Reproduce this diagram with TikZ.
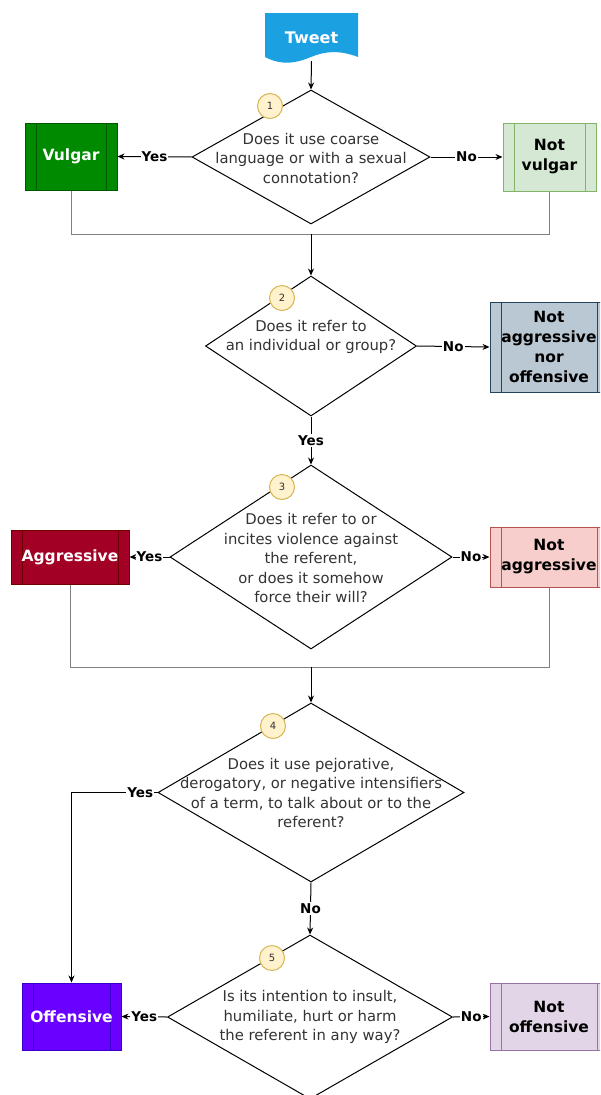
\documentclass[tikz,border=0pt]{standalone}
\usepackage{fontspec}
\setmainfont{DejaVu Sans}
\usetikzlibrary{shapes.geometric,arrows.meta}
\definecolor{tweetblue}{HTML}{1BA1E2}
\definecolor{vulgf}{HTML}{008A00}
\definecolor{vulgd}{HTML}{005700}
\definecolor{nvulgf}{HTML}{D5E8D4}
\definecolor{nvulgd}{HTML}{82B366}
\definecolor{nanof}{HTML}{BAC8D3}
\definecolor{nanod}{HTML}{23445D}
\definecolor{aggrf}{HTML}{A20025}
\definecolor{aggrd}{HTML}{6F0000}
\definecolor{naggrf}{HTML}{F8CECC}
\definecolor{naggrd}{HTML}{B85450}
\definecolor{offf}{HTML}{6A00FF}
\definecolor{offd}{HTML}{3700CC}
\definecolor{noffd}{HTML}{9673A6}
\definecolor{nofff}{HTML}{E1D5E7}
\definecolor{numf}{HTML}{FFF2CC}
\definecolor{numd}{HTML}{D6B656}
\definecolor{qgray}{HTML}{333333}
\definecolor{joingray}{HTML}{808080}
\begin{document}
\begin{tikzpicture}[x=1pt,y=-1pt,
  proc/.style n args={2}{draw=#2, fill=#1, line width=1pt, rectangle, inner sep=0pt, align=center,
    font=\bfseries\fontsize{15.5}{20}\selectfont,
    path picture={\draw[#2, line width=1pt]
      ([xshift=11pt]path picture bounding box.south west) -- ([xshift=11pt]path picture bounding box.north west)
      ([xshift=-11pt]path picture bounding box.south east) -- ([xshift=-11pt]path picture bounding box.north east);}},
  dia/.style={diamond, draw=black, line width=1pt, fill=white, inner sep=0pt, aspect=1},
  qtext/.style={align=center, text=qgray, inner sep=0pt, font=\fontsize{14.8}{19.5}\selectfont},
  num/.style={circle, draw=numd, fill=numf, line width=1pt, minimum size=25pt, inner sep=0pt,
    text=qgray, font=\fontsize{10}{10}\selectfont},
  lbl/.style={fill=white, text=black, inner sep=1pt, font=\bfseries\fontsize{13.5}{15}\selectfont},
  arr/.style={draw=black, line width=1pt, -{Stealth[length=7pt,width=6pt]}},
  joinline/.style={draw=joingray, line width=1pt}
]
\useasboundingbox (0,0) rectangle (600,1095);
\clip (0,0) rectangle (600,1095);
\fill[white] (0,0) rectangle (600,1095);

% Tweet document shape
\node[minimum width=93pt, minimum height=48pt, inner sep=0pt] (tweet) at (311.5,37) {};
\fill[tweetblue] (265,13) -- (358,13) -- (358,57)
  .. controls (340,50) and (325,51) .. (311,57)
  .. controls (297,63) and (282,66) .. (265,57) -- cycle;
\node[text=white, font=\bfseries\fontsize{16}{18}\selectfont] (tweettext) at (311.5,38) {Tweet};

% Diamonds
\node[dia, minimum width=238pt, minimum height=134pt] (d1) at (311,157) {};
\node[dia, minimum width=211pt, minimum height=140pt] (d2) at (311,346) {};
\node[dia, minimum width=282pt, minimum height=184pt] (d3) at (311,557) {};
\node[dia, minimum width=306pt, minimum height=179pt] (d4) at (311,792.5) {};
\node[dia, minimum width=285pt, minimum height=164pt] (d5) at (310,1017) {};

\node[qtext] (t1) at (311,158) {Does it use coarse\\language or with a sexual\\connotation?};
\node[qtext] (t2) at (311,337) {Does it refer to\\an individual or group?};
\node[qtext] (t3) at (311,558) {Does it refer to or\\incites violence against\\the referent,\\or does it somehow\\force their will?};
\node[qtext] (t4) at (311,793) {Does it use pejorative,\\derogatory, or negative intensifiers\\of a term, to talk about or to the\\referent?};
\node[qtext] (t5) at (310,1017) {Is its intention to insult,\\humiliate, hurt or harm\\the referent in any way?};

\node[num] (c1) at (270,106) {1};
\node[num] (c2) at (282,298) {2};
\node[num] (c3) at (282,487) {3};
\node[num] (c4) at (273,726) {4};
\node[num] (c5) at (272,958) {5};

% Result boxes
\node[proc={vulgf}{vulgd}, text=white, minimum width=92pt, minimum height=67pt] (vulg) at (71,156.5) {Vulgar};
\node[proc={nvulgf}{nvulgd}, text=black, minimum width=93pt, minimum height=68pt] (nvulg) at (549.5,157) {Not\\vulgar};
\node[proc={nanof}{nanod}, text=black, minimum width=118pt, minimum height=90pt] (nano) at (549,347) {Not\\aggressive\\nor\\offensive};
\node[proc={aggrf}{aggrd}, text=white, minimum width=118pt, minimum height=54pt] (aggr) at (70,557) {Aggressive};
\node[proc={naggrf}{naggrd}, text=black, minimum width=118pt, minimum height=60pt] (naggr) at (549,557) {Not\\aggressive};
\node[proc={offf}{offd}, text=white, minimum width=99pt, minimum height=67pt] (off) at (71.5,1016.5) {Offensive};
\node[proc={nofff}{noffd}, text=black, minimum width=118pt, minimum height=67pt] (noff) at (549,1016.5) {Not\\offensive};

% Join points
\coordinate (j1) at (311,234);
\coordinate (j2) at (311,667);
\coordinate (j1l) at (71,234);
\coordinate (j1r) at (549.5,234);
\coordinate (j2l) at (70,667);
\coordinate (j2r) at (549,667);
\coordinate (k4) at (71.5,792.5);

% Connectors
\draw[arr] (tweet.south) -- (d1.north);
\draw[arr] (d1.west) -- node[lbl] {Yes} (vulg.east);
\draw[arr] (d1.east) -- node[lbl] {No} (nvulg.west);
\draw[joinline] (vulg.south) -- (j1l) -- (j1r) -- (nvulg.south);
\draw[arr] (j1) -- (d2.north);
\draw[arr] (d2.east) -- node[lbl] {No} (nano.west);
\draw[arr] (d2.south) -- node[lbl] {Yes} (d3.north);
\draw[arr] (d3.west) -- node[lbl] {Yes} (aggr.east);
\draw[arr] (d3.east) -- node[lbl] {No} (naggr.west);
\draw[joinline] (aggr.south) -- (j2l) -- (j2r) -- (naggr.south);
\draw[arr] (j2) -- (d4.north);
\draw[arr] (d4.west) -- node[lbl, pos=0.2] {Yes} (k4) -- (off.north);
\draw[arr] (d4.south) -- node[lbl] {No} (d5.north);
\draw[arr] (d5.west) -- node[lbl] {Yes} (off.east);
\draw[arr] (d5.east) -- node[lbl] {No} (noff.west);
\end{tikzpicture}
\end{document}
